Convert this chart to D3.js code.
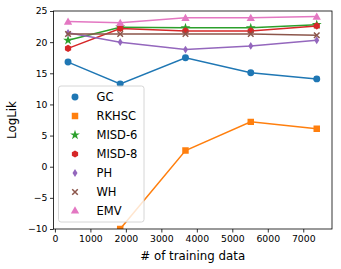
<!DOCTYPE html>
<html><head><meta charset="utf-8">
<script src="https://cdn.jsdelivr.net/npm/d3@7"></script>
<style>body{margin:0;background:#fff}svg{display:block}text{font-family:"DejaVu Sans",sans-serif}</style>
</head><body><svg id="c" width="341" height="269"></svg>
<script>
const xs = [370, 1840, 3680, 5520, 7380];
const seriesNames = ["GC","RKHSC","MISD-6","MISD-8","PH","WH","EMV"];
const GC = [16.8, 13.3, 17.5, 15.1, 14.1];
const RKHSC = [-30, -10, 2.6, 7.2, 6.1];
const MISD6 = [20.3, 22.4, 22.3, 22.3, 22.8];
const MISD8 = [19.0, 22.2, 21.8, 21.8, 22.6];
const PH = [21.5, 20.0, 18.8, 19.4, 20.3];
const WH = [21.3, 21.3, 21.3, 21.3, 21.1];
const EMV = [23.3, 23.1, 23.9, 23.9, 24.1];
const xTicks = [0,1000,2000,3000,4000,5000,6000,7000];
const yTicks = [-10,-5,0,5,10,15,20,25];
const colors = ["#1f77b4","#ff7f0e","#2ca02c","#d62728","#9467bd","#8c564b","#e377c2"];
const values = [GC,RKHSC,MISD6,MISD8,PH,WH,EMV];

const svg = d3.select("#c");
const L=53.5,R=332,T=11,B=229;
const x = d3.scaleLinear().domain([-40,7810]).range([L,R]);
const y = d3.scaleLinear().domain([-10,25]).range([B,T]);

svg.append("defs").append("clipPath").attr("id","clip").append("rect")
  .attr("x",L).attr("y",T).attr("width",R-L).attr("height",B-T);

function markerPath(i){
  if(i===3){ // hexagon
    const r=3.6; const p=[];
    for(let k=0;k<6;k++){const a=Math.PI/2+k*Math.PI/3;p.push([r*Math.cos(a),-r*Math.sin(a)]);}
    return "M"+p.map(d=>d.join(",")).join("L")+"Z";
  }
  if(i===4){ // thin diamond
    const h=3.9,w=2.5;
    return `M0,${-h}L${w},0L0,${h}L${-w},0Z`;
  }
  const sh=[d3.symbolCircle,d3.symbolSquare,d3.symbolStar,null,null,d3.symbolX,d3.symbolTriangle][i];
  const sizes=[38,42,30,0,0,22,30];
  return d3.symbol(sh, sizes[i])();
}
function drawMarker(sel,i,tx,ty){
  const m=sel.append("path").attr("d",markerPath(i)).attr("transform",`translate(${tx},${ty})`);
  if(i===5) m.attr("fill","none").attr("stroke",colors[i]).attr("stroke-width",1.5);
  else m.attr("fill",colors[i]);
}

const g = svg.append("g").attr("clip-path","url(#clip)");
values.forEach((vals,i)=>{
  const pts = xs.map((xv,j)=>[xv,vals[j]]);
  g.append("path").datum(pts).attr("fill","none").attr("stroke",colors[i]).attr("stroke-width",1.5)
    .attr("d",d3.line().x(d=>x(d[0])).y(d=>y(d[1])));
  pts.forEach(d=>drawMarker(g,i,x(d[0]),y(d[1])+(i===6?0.7:0)));
});

svg.append("rect").attr("x",L).attr("y",T).attr("width",R-L).attr("height",B-T)
  .attr("fill","none").attr("stroke","#000").attr("stroke-width",0.8);

const xa = svg.append("g").attr("transform",`translate(0,${B})`)
  .call(d3.axisBottom(x).tickValues(xTicks).tickSize(3.5).tickPadding(2.5).tickFormat(d3.format("d")));
const ya = svg.append("g").attr("transform",`translate(${L},0)`)
  .call(d3.axisLeft(y).tickValues(yTicks).tickSize(3.5).tickPadding(2.5).tickFormat(d=>d<0?"\u2212"+Math.abs(d):d));
[xa,ya].forEach(a=>{a.select(".domain").remove();
  a.selectAll("line").attr("stroke","#000").attr("stroke-width",0.8);
  a.selectAll("text").attr("font-size",9.3).attr("fill","#000").attr("font-family","DejaVu Sans");});

svg.append("text").attr("x",(L+R)/2).attr("y",260).attr("text-anchor","middle")
  .attr("font-size",11.8).text("# of training data");
svg.append("text").attr("transform",`translate(16,${(T+B)/2}) rotate(-90)`).attr("text-anchor","middle")
  .attr("font-size",11.8).text("LogLik");

const lg = svg.append("g");
lg.append("rect").attr("x",58.5).attr("y",86).attr("width",85.5).attr("height",136).attr("rx",2.5)
  .attr("fill","#fff").attr("fill-opacity",0.8).attr("stroke","#ccc").attr("stroke-width",0.8);
seriesNames.forEach((n,i)=>{
  const yy = 97 + i*19;
  drawMarker(lg,i,75,yy);
  lg.append("text").attr("x",96.5).attr("y",yy+4.2).attr("font-size",11.5).text(n);
});
</script></body></html>
